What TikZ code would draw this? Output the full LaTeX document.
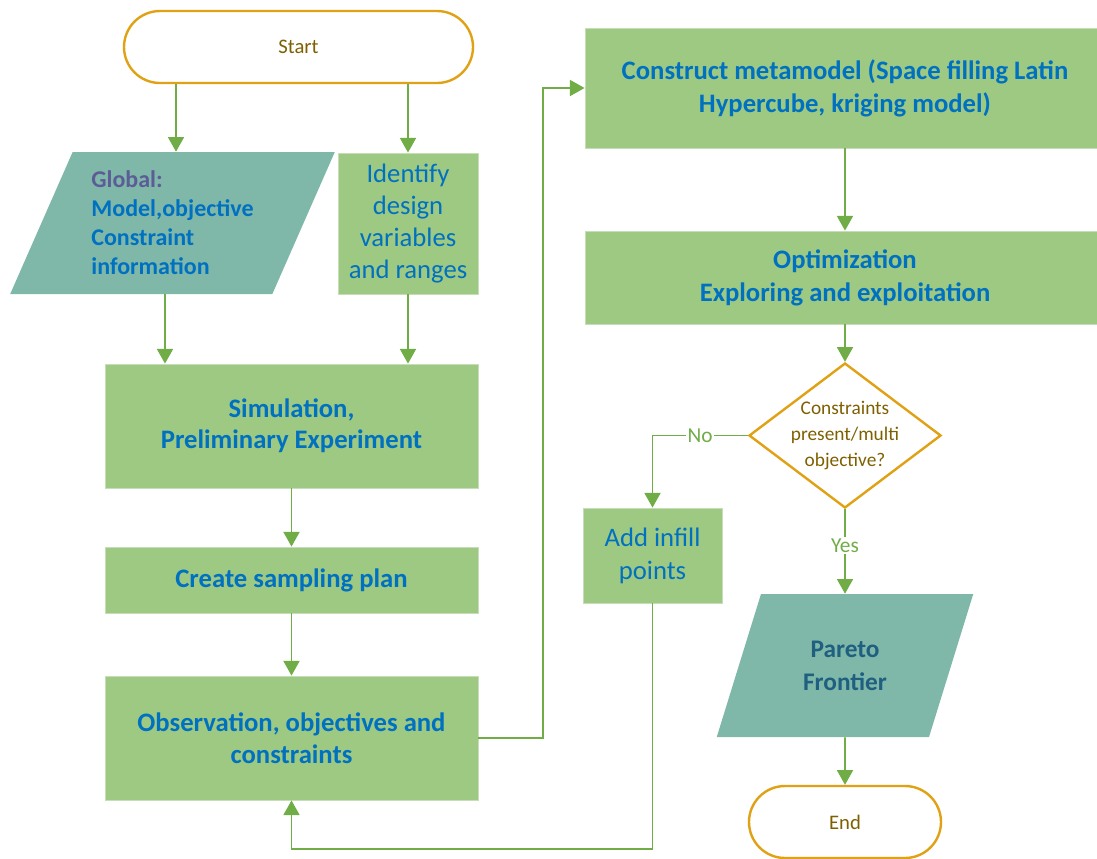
\documentclass[tikz,border=0pt]{standalone}
\usepackage{fontspec}
\setmainfont{Carlito}
\usetikzlibrary{shapes.geometric,arrows.meta}

\definecolor{boxgreen}{RGB}{157,201,131}
\definecolor{boxedge}{RGB}{198,222,184}
\definecolor{tealfill}{RGB}{127,184,169}
\definecolor{txtblue}{RGB}{0,112,192}
\definecolor{flowgreen}{RGB}{112,173,71}
\definecolor{termgold}{RGB}{224,162,20}
\definecolor{termbrown}{RGB}{127,96,0}
\definecolor{globviolet}{RGB}{92,92,150}
\definecolor{paretoblue}{RGB}{31,96,128}

\begin{document}
\begin{tikzpicture}[x=0.75pt,y=-0.75pt,
  terminal/.style={draw=termgold,line width=1.8pt,fill=white,rounded corners=27pt,
    minimum width=#1,minimum height=54pt,text=termbrown,font=\fontsize{15.5}{18}\selectfont},
  process/.style={fill=boxgreen,draw=boxedge,line width=0.6pt,text=txtblue,align=center,inner sep=0pt},
  boldtxt/.style={font=\bfseries\fontsize{20}{#1}\selectfont},
  datain/.style={trapezium,trapezium stretches=true,fill=tealfill,inner sep=0pt},
  flow/.style={draw=flowgreen,line width=1.2pt,-{Triangle[width=12pt,length=11pt]}},
  flowlabel/.style={fill=white,text=flowgreen,inner sep=1pt,font=\fontsize{16}{19}\selectfont}]
\useasboundingbox (0,0) rectangle (1097,858);

% Start and inputs
\node[terminal=261.75pt] (start) at (298.5,47) {Start};
\node[datain,trapezium left angle=64,trapezium right angle=116,
  minimum width=243.75pt,minimum height=106.5pt,align=left,text=txtblue,
  font=\bfseries\fontsize{18}{21.75}\selectfont] (glob) at (172.5,223)
  {{\color{globviolet}Global:}\\Model,objective\\Constraint\\information};
\node[process,minimum width=105pt,minimum height=105.75pt,
  font=\fontsize{20}{24}\selectfont] (ident) at (408,223.5)
  {Identify\\design\\variables\\and ranges};

% Sampling column
\node[process,boldtxt=23.25,minimum width=279.75pt,minimum height=93pt] (sim) at (291.5,426)
  {Simulation,\\Preliminary Experiment};
\node[process,boldtxt=24,minimum width=279.75pt,minimum height=49.5pt] (plan) at (291.5,580)
  {Create sampling plan};
\node[process,boldtxt=24,minimum width=279.75pt,minimum height=93pt] (obs) at (291.5,738)
  {Observation, objectives and\\constraints};

% Metamodel and optimization column
\node[process,boldtxt=24.75,minimum width=390pt,minimum height=90pt] (meta) at (845,88)
  {Construct metamodel (Space filling Latin\\Hypercube, kriging model)};
\node[process,boldtxt=24.75,minimum width=390pt,minimum height=69.75pt] (opt) at (845,277.5)
  {Optimization\\Exploring and exploitation};
% decision: empty diamond, text set on top
\node[diamond,draw=termgold,line width=1.8pt,fill=white,inner sep=0pt,
  minimum width=144pt,minimum height=108.75pt] (dec) at (845,435.5) {};
\node[align=center,text=termbrown,font=\fontsize{14.5}{19.5}\selectfont] (dectxt) at (dec.center)
  {Constraints\\present/multi\\objective?};
\node[process,minimum width=104.25pt,minimum height=71.25pt,
  font=\fontsize{20}{24.75}\selectfont] (infill) at (652.5,555.5)
  {Add infill\\points};
\node[datain,trapezium left angle=66,trapezium right angle=114,
  minimum width=192.75pt,minimum height=107.25pt,align=center,text=paretoblue,
  font=\bfseries\fontsize{19}{24.75}\selectfont] (pareto) at (845,665.5)
  {Pareto\\Frontier};
\node[terminal=144pt] (stop) at (845,822) {End};

% Connectors
\draw[flow] (start.south -| 176,0) -- (glob.north -| 176,0);
\draw[flow] (start.south -| ident.north) -- (ident.north);
\draw[flow] (glob.south -| 165,0) -- (sim.north -| 165,0);
\draw[flow] (ident.south) -- (ident.south |- sim.north);
\foreach \a/\b in {sim/plan,plan/obs,meta/opt,opt/dec,pareto/stop}
  \draw[flow] (\a.south) -- (\b.north);
\draw[flow] (obs.east) -- (obs.east -| 543,0) |- (meta.west);
\draw[flow] (dec.west) -| node[flowlabel,pos=0.25] {No} (infill.north);
\draw[flow] (dec.south) -- node[flowlabel,pos=0.43] {Yes} (pareto.north);
\draw[flow] (infill.south) -- (infill.south |- 0,849) -| (obs.south);
\end{tikzpicture}
\end{document}
